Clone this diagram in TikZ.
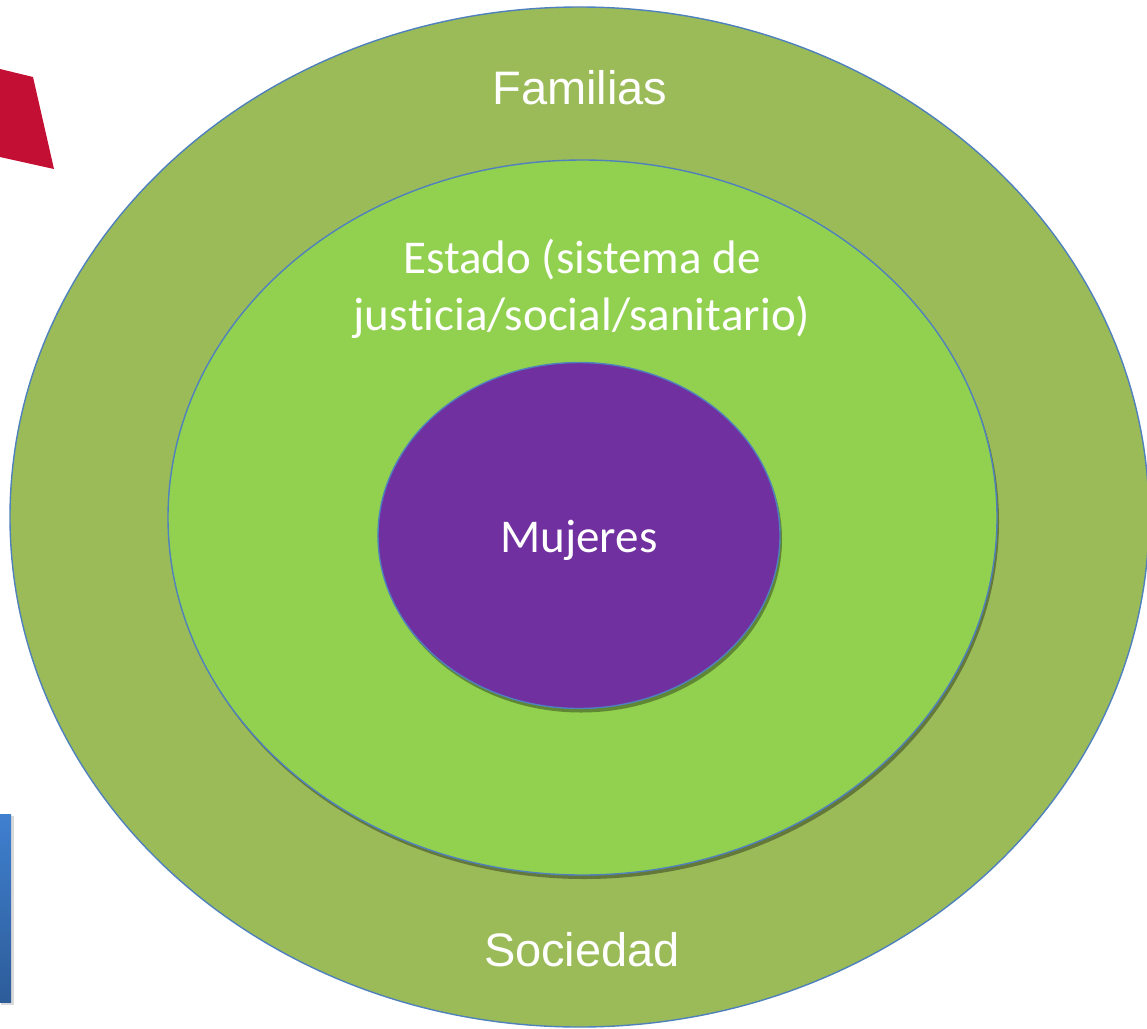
\documentclass[tikz,border=0pt]{standalone}
\usepackage{fontspec}
\setmainfont{Liberation Sans}
\newfontfamily\calib[RawFeature={-liga;-clig;-calt;-dlig}]{Carlito}
\usetikzlibrary{shapes.geometric,shadows}
\definecolor{outerg}{HTML}{9BBB59}
\definecolor{midg}{HTML}{92D050}
\definecolor{purp}{HTML}{7030A0}
\definecolor{edge}{HTML}{4F81BD}
\definecolor{redsh}{HTML}{C40F34}
\definecolor{bluetop}{HTML}{3F80CF}
\definecolor{bluebot}{HTML}{2D5C99}
\tikzset{
  ring/.style={ellipse, draw=edge, line width=1.4pt, inner sep=0pt, outer sep=0pt},
  softshadow/.style={drop shadow={shadow xshift=2pt, shadow yshift=-4pt, opacity=0.35, fill=black}},
  arial/.style={text=white, font=\fontsize{47}{56}\selectfont},
  calibri/.style={text=white, font=\calib\fontsize{47}{57}\selectfont, align=center}
}
\begin{document}
\begin{tikzpicture}[x=1pt,y=-1pt]
\useasboundingbox (0,0) rectangle (1147,1028);
\fill[white] (0,0) rectangle (1147,1028);
% decorative fragments
\fill[redsh] (0,69) -- (33,77) -- (54,169) -- (0,157) -- cycle;
\fill[black, opacity=0.15] (1,816) rectangle (14,1005);
\shade[top color=bluetop, bottom color=bluebot] (0,814) rectangle (11,1002);
% ellipses
\node[ring, fill=outerg, minimum width=1139pt, minimum height=1020pt] (outer) at (579.5,517) {};
\node[ring, fill=midg, softshadow, minimum width=829pt, minimum height=715pt] (mid) at (582.5,517.5) {};
\node[ring, fill=purp, softshadow, minimum width=402pt, minimum height=346pt] (inner) at (579,535.5) {};
% labels
\node[arial] (fam) at (580,88) {Familias};
\node[arial] (soc) at (582,950) {Sociedad};
\node[calibri, anchor=base] (est) at (582,330) {Estado (sistema de\\jus\kern0pt ticia/social/sanit\kern0pt ario)};
\node[calibri, anchor=base] (muj) at (579,552) {Mujeres};
\end{tikzpicture}
\end{document}
